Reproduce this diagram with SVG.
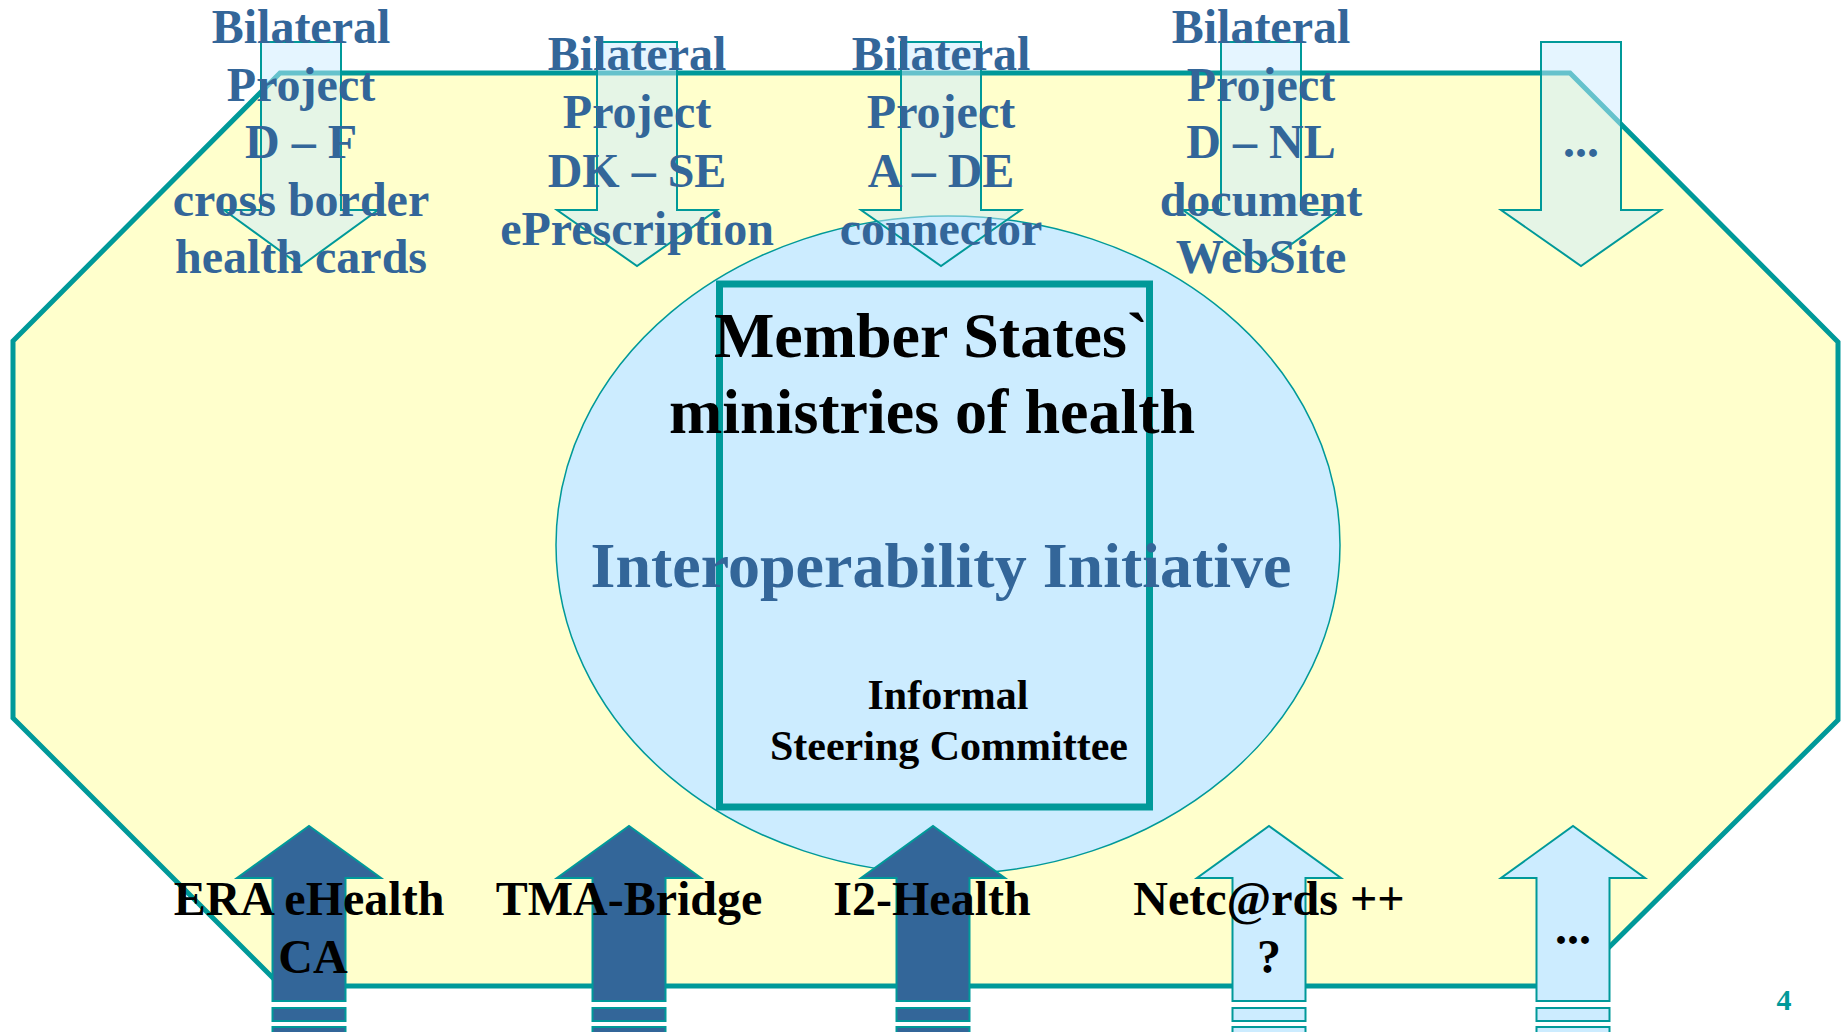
<svg xmlns="http://www.w3.org/2000/svg" width="1847" height="1032" viewBox="0 0 1847 1032">
<style>
.t{font-family:"Liberation Serif","Times New Roman",serif;font-weight:bold;text-anchor:middle}
.blue{fill:#336699}
.blk{fill:#000000}
.down{fill:#CCECFF;fill-opacity:0.5;stroke:#009999;stroke-width:2}
.upd{fill:#336699;stroke:#009999;stroke-width:2}
.upl{fill:#CCECFF;stroke:#009999;stroke-width:2}
</style>
<rect width="1847" height="1032" fill="#FFFFFF"/>
<g id="octagon">
<polygon points="280,73 1570,73 1838,342 1838,720 1570,986 281,986 13,718 13,341" fill="#FFFFCC" stroke="#009999" stroke-width="5"/>
</g>
<g id="center">
<ellipse cx="948" cy="545" rx="392" ry="329" fill="#CCECFF" stroke="#009999" stroke-width="1.5"/>
<rect x="719.5" y="284" width="430" height="523" fill="none" stroke="#009999" stroke-width="7"/>
<text class="t blk" x="931" y="357" font-size="64">Member States`</text>
<text class="t blk" x="932" y="433" font-size="64">ministries of health</text>
<text class="t blue" x="941" y="587" font-size="64">Interoperability Initiative</text>
<text class="t blk" x="948" y="709" font-size="42">Informal</text>
<text class="t blk" x="949" y="760" font-size="42">Steering Committee</text>
</g>
<g id="connectors">
<path class="down" d="M261,42 H341 V210 H378 L301,266 L224,210 H261 Z"/>
<path class="down" d="M597,42 H677 V210 H717 L637,266 L557,210 H597 Z"/>
<path class="down" d="M901,42 H981 V210 H1021 L941,266 L861,210 H901 Z"/>
<path class="down" d="M1221,42 H1301 V210 H1339 L1261,266 L1183,210 H1221 Z"/>
<path class="down" d="M1541,42 H1621 V210 H1661 L1581,266 L1501,210 H1541 Z"/>
<path class="upd" d="M272.5,1001 V878 H237 L309,826 L381,878 H345.5 V1001 Z"/>
<rect class="upd" x="272.5" y="1008" width="73" height="13"/>
<rect class="upd" x="272.5" y="1027" width="73" height="13"/>
<path class="upd" d="M592.5,1001 V878 H557 L629,826 L701,878 H665.5 V1001 Z"/>
<rect class="upd" x="592.5" y="1008" width="73" height="13"/>
<rect class="upd" x="592.5" y="1027" width="73" height="13"/>
<path class="upd" d="M896.5,1001 V878 H861 L933,826 L1005,878 H969.5 V1001 Z"/>
<rect class="upd" x="896.5" y="1008" width="73" height="13"/>
<rect class="upd" x="896.5" y="1027" width="73" height="13"/>
<path class="upl" d="M1232.5,1001 V878 H1197 L1269,826 L1341,878 H1305.5 V1001 Z"/>
<rect class="upl" x="1232.5" y="1008" width="73" height="13"/>
<rect class="upl" x="1232.5" y="1027" width="73" height="13"/>
<path class="upl" d="M1536.5,1001 V878 H1501 L1573,826 L1645,878 H1609.5 V1001 Z"/>
<rect class="upl" x="1536.5" y="1008" width="73" height="13"/>
<rect class="upl" x="1536.5" y="1027" width="73" height="13"/>
</g>
<g id="bilateral-df">
<text class="t blue" font-size="48"><tspan x="301" y="43">Bilateral</tspan><tspan x="301" y="100.5">Project</tspan><tspan x="301" y="158">D – F</tspan><tspan x="301" y="215.5">cross border</tspan><tspan x="301" y="273">health cards</tspan></text>
</g>
<g id="bilateral-dkse">
<text class="t blue" font-size="48"><tspan x="637" y="70">Bilateral</tspan><tspan x="637" y="128">Project</tspan><tspan x="637" y="187">DK – SE</tspan><tspan x="637" y="245">ePrescription</tspan></text>
</g>
<g id="bilateral-ade">
<text class="t blue" font-size="48"><tspan x="941" y="70">Bilateral</tspan><tspan x="941" y="128">Project</tspan><tspan x="941" y="187">A – DE</tspan><tspan x="941" y="245">connector</tspan></text>
</g>
<g id="bilateral-dnl">
<text class="t blue" font-size="48"><tspan x="1261" y="43">Bilateral</tspan><tspan x="1261" y="100.5">Project</tspan><tspan x="1261" y="158">D – NL</tspan><tspan x="1261" y="215.5">document</tspan><tspan x="1261" y="273">WebSite</tspan></text>
</g>
<g id="bilateral-more">
<text class="t blue" x="1581" y="157" font-size="48">...</text>
</g>
<g id="era">
<text class="t blk" font-size="48"><tspan x="309" y="915">ERA eHealth</tspan><tspan x="313" y="973">CA</tspan></text>
</g>
<g id="tma">
<text class="t blk" x="629" y="915" font-size="48">TMA-Bridge</text>
</g>
<g id="i2">
<text class="t blk" x="932" y="915" font-size="48">I2-Health</text>
</g>
<g id="netcards">
<text class="t blk" font-size="48"><tspan x="1269" y="915">Netc@rds ++</tspan><tspan x="1269" y="973">?</tspan></text>
</g>
<g id="more">
<text class="t blk" x="1573" y="944" font-size="48">...</text>
</g>
<text class="t" x="1784" y="1010" font-size="30" fill="#009999">4</text>
</svg>
